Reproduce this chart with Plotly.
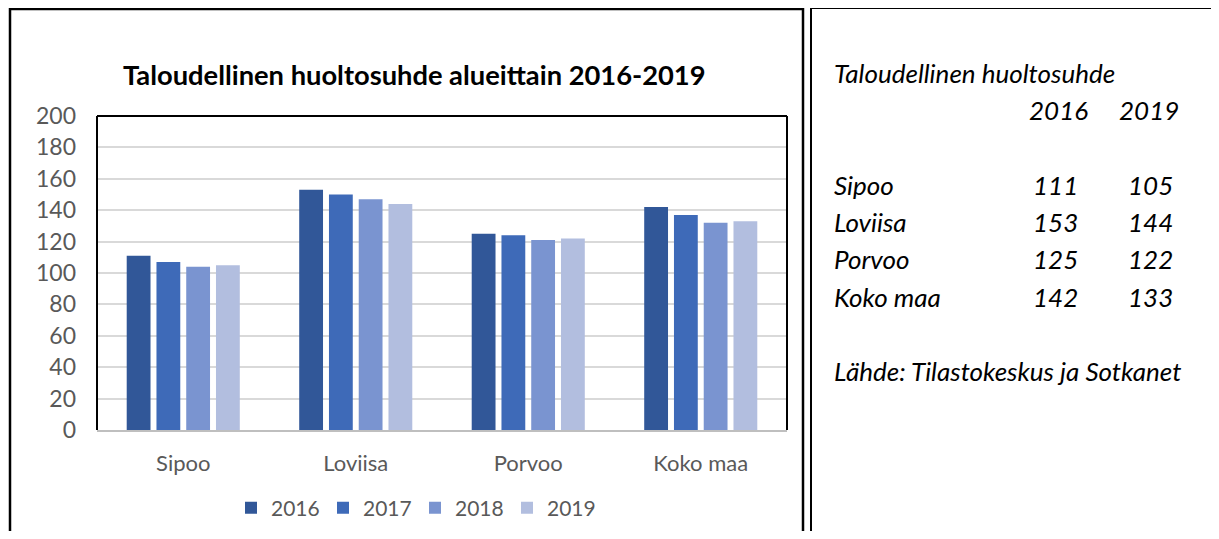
import plotly.graph_objects as go

# data
regions = ["Sipoo", "Loviisa", "Porvoo", "Koko maa"]
years = ["2016", "2017", "2018", "2019"]
v2016 = [111, 153, 125, 142]
v2017 = [107, 150, 124, 137]
v2018 = [104, 147, 121, 132]
v2019 = [105, 144, 122, 133]
yticks = [0, 20, 40, 60, 80, 100, 120, 140, 160, 180, 200]

table_title = "Taloudellinen huoltosuhde"
table_rows = ["Sipoo", "Loviisa", "Porvoo", "Koko maa"]
table_2016 = [111, 153, 125, 142]
table_2019 = [105, 144, 122, 133]
source = "Lähde: Tilastokeskus ja Sotkanet"

colors = ["#315798", "#3e6ab8", "#7a94d0", "#b2bedf"]
FONT = "Lato"
W, H = 1219, 539
OFF = 8  # body margin of the html page
FW, FH = W - 2 * OFF, H - 2 * OFF  # figure size that fits without scrolling
# plot area in page pixels
L, R, T, B = 97, 787, 116, 430


def px(x):
    return (x - L) / (R - L)


def py(y):
    return (B - y) / (B - T)


fig = go.Figure()
for year, vals, c in zip(years, [v2016, v2017, v2018, v2019], colors):
    fig.add_trace(go.Bar(x=regions, y=vals, name=year, marker_color=c,
                         marker_line_width=0))

shapes = []
# panel borders
shapes.append(dict(type="rect", xref="paper", yref="paper",
                   x0=px(10), x1=px(803), y0=py(560), y1=py(9),
                   line=dict(color="black", width=2.5)))
shapes.append(dict(type="rect", xref="paper", yref="paper",
                   x0=px(811), x1=px(1240), y0=py(560), y1=py(8),
                   line=dict(color="black", width=2)))
# plot area frame (left, top, right)
for x0, y0, x1, y1 in [(L, B, L, T), (L, T, R, T), (R, T, R, B)]:
    shapes.append(dict(type="line", xref="paper", yref="paper",
                       x0=px(x0), x1=px(x1), y0=py(y0), y1=py(y1),
                       line=dict(color="black", width=2)))

ann = []
ann.append(dict(text="<b>Taloudellinen huoltosuhde alueittain 2016-2019</b>",
                x=px(414), y=py(75), xref="paper", yref="paper",
                showarrow=False, xanchor="center", yanchor="middle",
                font=dict(family=FONT, size=27.3, color="black")))

tfont = dict(family=FONT, size=26, color="black")


def note(text, x, y, anchor):
    ann.append(dict(text=f"<i>{text}</i>", x=px(x), y=py(y), xref="paper",
                    yref="paper", showarrow=False, xanchor=anchor,
                    yanchor="middle", font=tfont))


note(table_title, 832, 73, "left")
note("2016", 1090, 110, "right")
note("2019", 1181, 110, "right")
row_y = [185, 222, 259, 297]
for name, a, b, ry in zip(table_rows, table_2016, table_2019, row_y):
    note(name, 832, ry, "left")
    note(a, 1080, ry, "right")
    note(b, 1175, ry, "right")
note(source, 832, 371, "left")

fig.update_layout(
    width=FW, height=FH,
    margin=dict(l=L - OFF, r=FW - (R - OFF), t=T - OFF, b=FH - (B - OFF),
                pad=0, autoexpand=False),
    paper_bgcolor="white", plot_bgcolor="white",
    barmode="group", bargap=0.31, bargroupgap=0.2,
    font=dict(family=FONT, size=22, color="#595959"),
    showlegend=True,
    legend=dict(orientation="h", x=px(415), y=py(508), xanchor="center",
                yanchor="middle", font=dict(size=21, color="#595959"),
                itemwidth=30, traceorder="normal",
                entrywidth=47, entrywidthmode="pixels"),
    shapes=shapes,
    annotations=ann,
)
fig.update_xaxes(showline=True, linecolor="#bfbfbf", linewidth=2,
                 ticks="", showgrid=False, ticklabelstandoff=13,
                 automargin=False,
                 tickfont=dict(size=22, color="#595959"))
fig.update_yaxes(range=[0, 200], tickvals=yticks, showgrid=True,
                 gridcolor="#d9d9d9", gridwidth=2, zeroline=False,
                 showline=False, ticks="", ticklabelstandoff=20,
                 automargin=False,
                 tickfont=dict(size=23, color="#595959"))

fig.write_html("out.html")
